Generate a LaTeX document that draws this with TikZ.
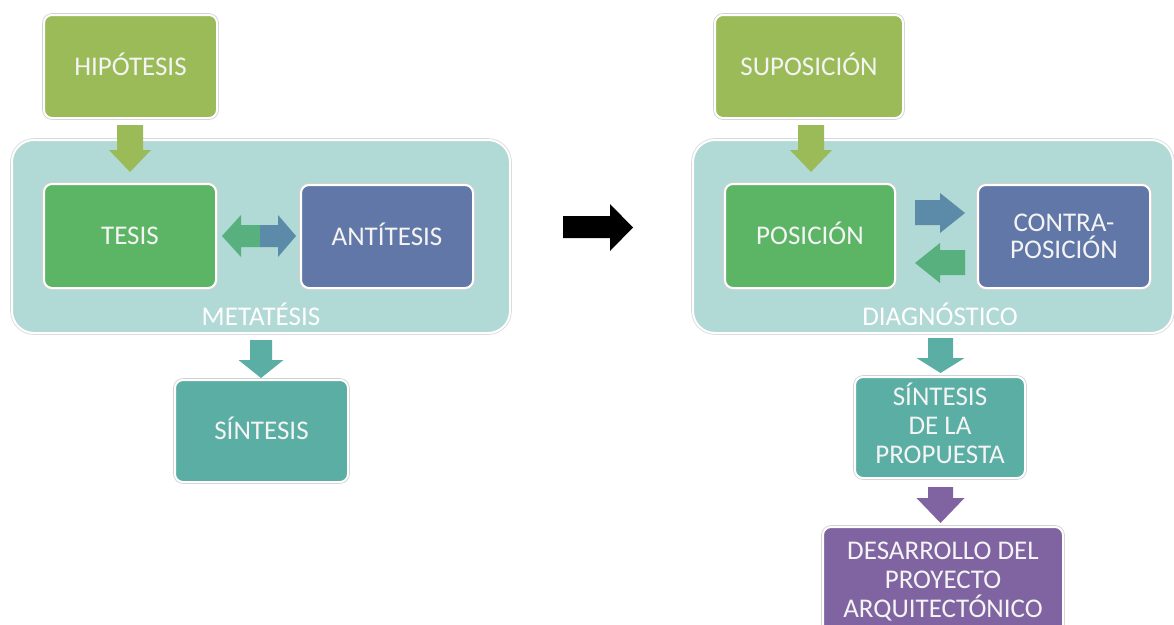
\documentclass[tikz,border=0pt]{standalone}
\usepackage{fontspec}
\setmainfont{Carlito}
\definecolor{olive}{HTML}{9BBB59}
\definecolor{gbox}{HTML}{5CB565}
\definecolor{bbox}{HTML}{6077A8}
\definecolor{cont}{HTML}{B1D9D5}
\definecolor{tbox}{HTML}{5BAEA3}
\definecolor{pbox}{HTML}{8064A2}
\definecolor{barrow}{HTML}{5B8BA8}
\definecolor{garrow}{HTML}{58B07F}
\definecolor{txt}{HTML}{F4F4F4}
\tikzset{
  box/.style={rounded corners=8, draw=white, line width=2, inner sep=0, outer sep=0,
    preaction={draw=black!18, line width=3.6}, text=txt, align=center,
    font=\fontsize{27}{29}\selectfont},
  oneline/.style={text height=17.5, text depth=0},
  contbox/.style={rounded corners=22, fill=cont, draw=white, line width=2, inner sep=0,
    preaction={draw=black!15, line width=3.6}},
  clabel/.style={text=white, font=\fontsize{27}{29}\selectfont, inner sep=0, text height=17.5, text depth=0},
}
% block arrow pointing down: x, ytop, yhead, ytip, shaft half, head half, color
\newcommand\downarr[7]{\fill[#7] (#1-#5,#2) -- (#1+#5,#2) -- (#1+#5,#3) -- (#1+#6,#3) -- (#1,#4) -- (#1-#6,#3) -- (#1-#5,#3) -- cycle;}
\begin{document}
\begin{tikzpicture}[x=1pt,y=-1pt]
\useasboundingbox (0,0) rectangle (1174,624);
% ---------- left ----------
\node[contbox, minimum width=498, minimum height=193] (meta) at (261,236.5) {};
\node[clabel] (metalbl) at (261,317) {METATÉSIS};
\node[box, oneline, fill=olive, minimum width=173, minimum height=103] (hip) at (130.5,66.5) {HIPÓTESIS};
\node[box, oneline, fill=gbox, minimum width=172, minimum height=104] (tesis) at (130,236) {TESIS};
\node[box, oneline, fill=bbox, minimum width=172, minimum height=103] (anti) at (387,236.5) {ANTÍTESIS};
\node[box, oneline, fill=tbox, minimum width=173, minimum height=102] (sint) at (261.5,431) {SÍNTESIS};
% arrows left
\downarr{130}{125}{150}{172}{13}{21}{olive}
\fill[garrow] (260,225) -- (260,247) -- (241,247) -- (241,257) -- (222,236) -- (241,215) -- (241,225) -- cycle;
\fill[barrow] (260,225) -- (278,225) -- (278,215) -- (296,236) -- (278,257) -- (278,247) -- (260,247) -- cycle;
\downarr{261}{340}{360}{378}{11}{22.5}{tbox}
% ---------- middle ----------
\fill[black] (563,216) -- (610,216) -- (610,204) -- (633,227.5) -- (610,251) -- (610,238) -- (563,238) -- cycle;
% ---------- right ----------
\node[contbox, minimum width=480, minimum height=193] (diag) at (933,236.5) {};
\node[clabel] (diaglbl) at (940,317) {DIAGNÓSTICO};
\node[box, oneline, fill=olive, minimum width=188, minimum height=103] (supo) at (809,66.5) {SUPOSICIÓN};
\node[box, oneline, fill=gbox, minimum width=170, minimum height=104] (pos) at (810,236) {POSICIÓN};
\node[box, fill=bbox, minimum width=172, minimum height=103, font=\fontsize{27}{27}\selectfont] (contra) at (1064,236.5) {CONTRA-\\POSICIÓN};
\node[box, fill=tbox, minimum width=170, minimum height=101] (sprop) at (940,427.5) {\raisebox{3pt}{\begin{tabular}{@{}c@{}}SÍNTESIS\\DE LA\\PROPUESTA\end{tabular}}};
\node[box, fill=pbox, minimum width=240, minimum height=110] (desa) at (943,582) {DESARROLLO DEL\\PROYECTO\\ARQUITECTÓNICO};
% arrows right
\downarr{811}{125}{150}{172}{13}{21}{olive}
\fill[barrow] (915,200) -- (940,200) -- (940,193) -- (965,213) -- (940,233) -- (940,225) -- (915,225) -- cycle;
\fill[garrow] (965,250) -- (965,275) -- (940,275) -- (940,283) -- (915,263) -- (940,243) -- (940,250) -- cycle;
\downarr{940.5}{338}{358}{373}{12.5}{24}{tbox}
\downarr{940.5}{487}{498}{523}{12.5}{24}{pbox}
\end{tikzpicture}
\end{document}
